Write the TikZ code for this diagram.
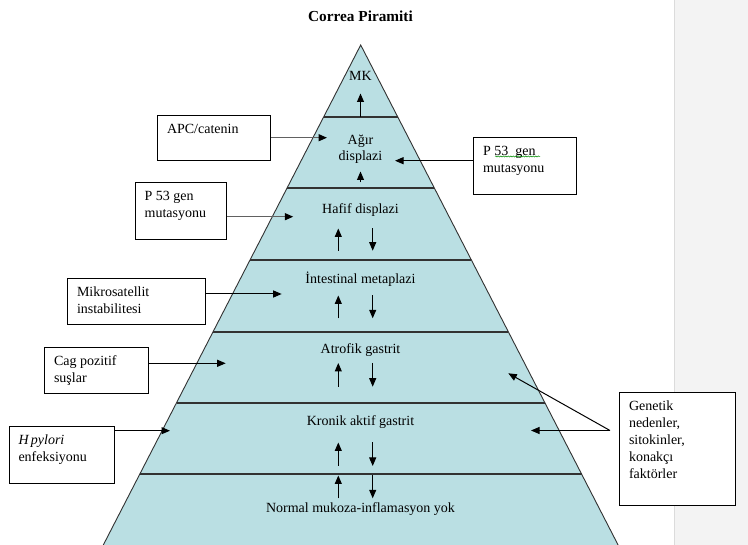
\documentclass[tikz,border=0pt]{standalone}
\usepackage{fontspec}
\setmainfont{Liberation Serif}
\usepackage{tikz}
\usetikzlibrary{arrows.meta,positioning,decorations.pathmorphing}
\definecolor{piramit}{RGB}{186,223,227}
\definecolor{kenar}{RGB}{50,50,50}
\definecolor{sayfa}{RGB}{243,243,243}
\tikzset{
  kutu/.style={draw=black,line width=0.9pt,fill=white,anchor=north west,inner sep=0pt},
  yazi/.style={align=left,inner sep=0pt,font=\fontsize{14}{17}\selectfont},
  katman/.style={align=center,inner sep=0pt,font=\fontsize{14}{15.5}\selectfont},
  ok/.style={-{Triangle[length=8.5pt,width=7pt]},line width=1pt},
  griok/.style={-{Triangle[length=8.5pt,width=7pt,color=black]},draw=black!62,line width=1.5pt}
}

\begin{document}
\begin{tikzpicture}[x=1pt,y=-1pt]
  \useasboundingbox (0,0) rectangle (748,545);
  \clip (0,0) rectangle (748,545);
  \fill[white] (0,0) rectangle (748,545);
  \fill[sayfa] (674.5,0) rectangle (748,545);
  \draw[black!14,line width=0.8pt] (674.5,0) -- (674.5,545);
  % piramit
  \coordinate (tepe) at (360.7,45);
  \fill[piramit] (tepe) -- ({360.7-0.5148*515},560) -- ({360.7+0.5148*515},560) -- cycle;
  \draw[kenar,line width=0.9pt] ({360.7-0.5148*515},560) -- (tepe) -- ({360.7+0.5148*515},560);
  \foreach \y in {116.7,188.3,260,331.7,402.7,474.3}
    \draw[kenar,line width=1.7pt] ({360.7-0.5148*(\y-45)},\y) -- ({360.7+0.5148*(\y-45)},\y);
  \node[font=\fontsize{15.3}{18}\selectfont\bfseries,inner sep=0pt] (baslik) at (360.5,16) {Correa Piramiti};
  % katmanlar
  \node[katman,anchor=base] (mk) at (360.5,81) {MK};
  \node[katman] (agir) at (360.5,149) {Ağır\\displazi};
  \node[katman,anchor=base] (hafif) at (360.5,214) {Hafif displazi};
  \node[katman,anchor=base] (intes) at (360.5,283.3) {İntestinal metaplazi};
  \node[katman,anchor=base] (atrofik) at (360.5,354) {Atrofik gastrit};
  \node[katman,anchor=base] (kronik) at (360.5,425.7) {Kronik aktif gastrit};
  \node[katman,anchor=base] (normal) at (360.5,512.3) {Normal mukoza-inflamasyon yok};
  \draw[ok] (360.5,116.7) -- (360.5,93.5);
  \draw[ok] (360.5,182.5) -- (360.5,171.5);
  \foreach \u/\a in {228.5/250.7,295.5/318.3,363/386.7,442.5/466,475.5/498.3}{
    \draw[ok] (338.3,\a) -- (338.3,\u);
    \draw[ok] (372.7,\u) -- (372.7,\a);
  }
  % sol kutular
  \node[kutu,minimum width=113pt,minimum height=45.3pt] (apc) at (157.3,115) {};
  \node[yazi,below right=6.5pt and 9.5pt of apc.north west] (apcyazi) {\strut APC/catenin};
  \node[kutu,minimum width=90.7pt,minimum height=57pt] (p53sol) at (135,182.3) {};
  \node[yazi,below right=6.5pt and 9.5pt of p53sol.north west] (p53solyazi) {\strut P 53 gen\\mutasyonu};
  \node[kutu,minimum width=138pt,minimum height=46pt] (mikro) at (67.3,278.3) {};
  \node[yazi,below right=6.5pt and 9.5pt of mikro.north west] (mikroyazi) {\strut Mikrosatellit\\instabilitesi};
  \node[kutu,minimum width=103.4pt,minimum height=46pt] (cag) at (44.3,347.3) {};
  \node[yazi,below right=6.5pt and 9.5pt of cag.north west] (cagyazi) {\strut Cag pozitif\\suşlar};
  \node[kutu,minimum width=104.4pt,minimum height=57pt] (hp) at (9.3,426.3) {};
  \node[yazi,below right=6.5pt and 9pt of hp.north west] (hpyazi) {\strut\textit{H\,pylori}\\enfeksiyonu};
  % sag kutular
  \node[kutu,minimum width=102.4pt,minimum height=56.7pt] (p53sag) at (473.3,137.3) {};
  \node[yazi,below right=6.5pt and 9.5pt of p53sag.north west] (p53sagyazi) {\strut P 53\ \ gen\\mutasyonu};
  \draw[green!55!black,line width=0.5pt,decorate,decoration={snake,amplitude=0.6pt,segment length=2.5pt}] (495,156.5) -- (540,156.5);
  \node[kutu,minimum width=115.4pt,minimum height=113.3pt] (genetik) at (619.3,391.7) {};
  \node[yazi,below right=6.5pt and 9.5pt of genetik.north west] (genetikyazi) {\strut Genetik\\nedenler,\\sitokinler,\\konakçı\\faktörler};
  % oklar
  \coordinate (apcuc) at (327,137.7);
  \coordinate (p53soluc) at (293.3,216.7);
  \coordinate (mikrouc) at (281.7,294);
  \coordinate (caguc) at (225.7,363.3);
  \coordinate (hpuc) at (170,430.7);
  \coordinate (p53saguc) at (395,160.7);
  \coordinate (genbas) at (610,430.5);
  \coordinate (genuc1) at (508.3,373.3);
  \coordinate (genuc2) at (531,430.5);
  \draw[griok] (apc.east |- apcuc) -- (apcuc);
  \draw[griok] (p53sol.east |- p53soluc) -- (p53soluc);
  \draw[ok] (mikro.east |- mikrouc) -- (mikrouc);
  \draw[ok] (cag.east |- caguc) -- (caguc);
  \draw[ok] (hp.east |- hpuc) -- (hpuc);
  \draw[ok] (p53sag.west |- p53saguc) -- (p53saguc);
  \draw[ok] (genbas) -- (genuc1);
  \draw[ok] (genbas) -- (genuc2);
\end{tikzpicture}
\end{document}
